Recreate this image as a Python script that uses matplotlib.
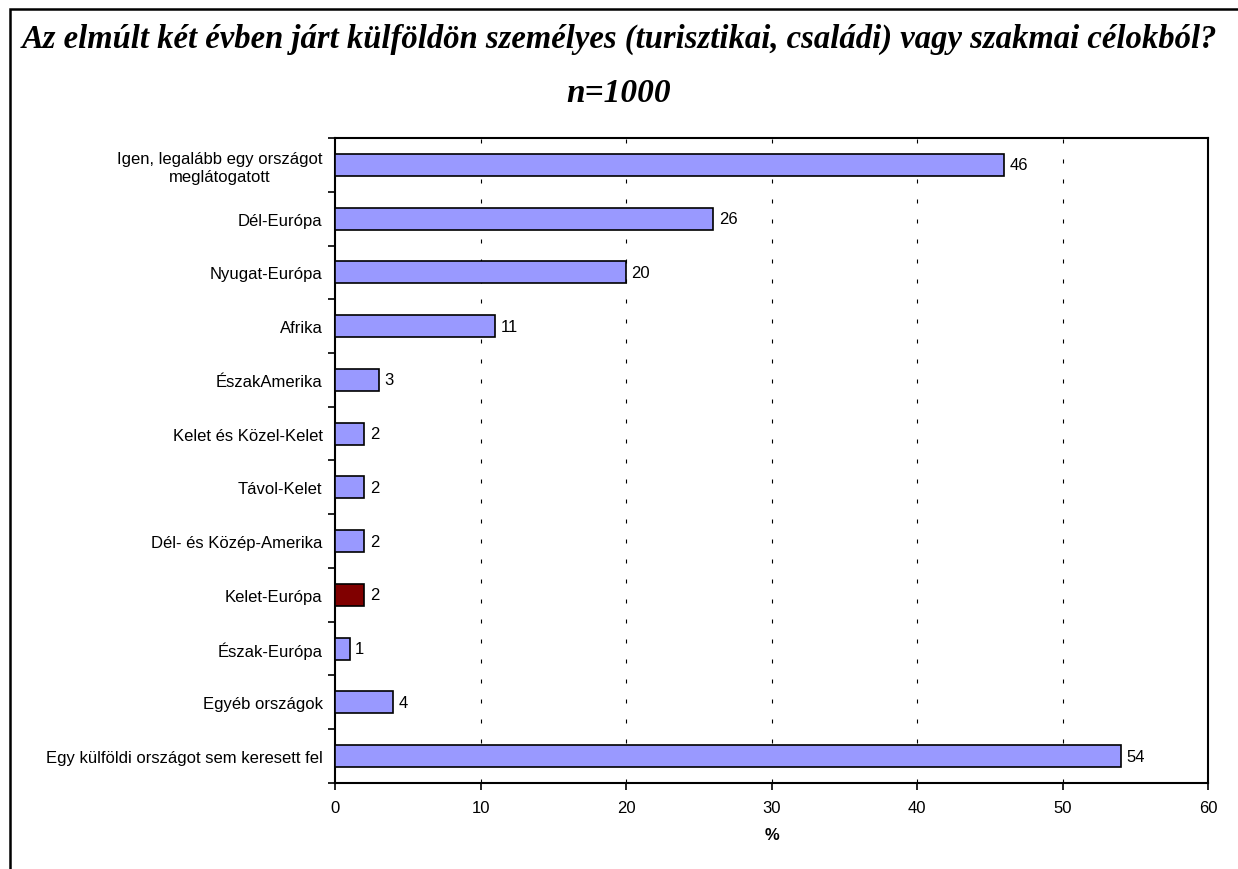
import numpy as np
import matplotlib.pyplot as plt
from matplotlib.patches import Rectangle

categories = ["Igen, legalább egy országot\nmeglátogatott", "Dél-Európa", "Nyugat-Európa",
              "Afrika", "ÉszakAmerika", "Kelet és Közel-Kelet", "Távol-Kelet",
              "Dél- és Közép-Amerika", "Kelet-Európa", "Észak-Európa",
              "Egyéb országok", "Egy külföldi országot sem keresett fel"]
values = [46, 26, 20, 11, 3, 2, 2, 2, 2, 1, 4, 54]
highlight = "Kelet-Európa"

title = "Az elmúlt két évben járt külföldön személyes (turisztikai, családi) vagy szakmai célokból?"
subtitle = "n=1000"

plt.rcParams['font.family'] = ['Liberation Sans', 'DejaVu Sans']
fs = 12

fig = plt.figure(figsize=(12.38, 8.70), dpi=100)
ax = fig.add_axes([0.2706, 0.0989, 0.7052, 0.7413])

colors = ['#800000' if c == highlight else '#9999FF' for c in categories]
y = np.arange(len(categories))
ax.barh(y, values, height=0.41, color=colors, edgecolor='black', linewidth=1.2, zorder=3)

for yi, v in zip(y, values):
    ax.annotate(str(v), (v, yi), xytext=(4, 0), textcoords='offset points',
                va='center', ha='left', fontsize=fs)

ax.set_xlim(0, 60)
ax.set_ylim(len(categories) - 0.5, -0.5)
ax.set_xticks(np.arange(0, 61, 10))
ax.set_yticks(y)
ax.set_yticklabels(categories, fontsize=fs, multialignment='center')
ax.set_yticks(np.arange(-0.5, len(categories), 1), minor=True)
ax.tick_params(axis='y', which='major', length=0, pad=9)
ax.tick_params(axis='y', which='minor', length=5, direction='out', width=1.2)
ax.tick_params(axis='x', length=5, direction='out', labelsize=fs, pad=7, width=1.2)
ax.set_xlabel('%', fontsize=fs, fontweight='bold', labelpad=9)

# dashed vertical gridlines
for xv in range(10, 60, 10):
    ax.axvline(xv, color='black', linewidth=0.8, linestyle=(0, (3.6, 14.4)), zorder=1)

for s in ax.spines.values():
    s.set_linewidth(1.5)

fig.text(0.5, 0.955, title, ha='center', va='center', fontsize=23.5,
         family='Liberation Serif', fontweight='bold', fontstyle='italic')
fig.text(0.5, 0.893, subtitle, ha='center', va='center', fontsize=24,
         family='Liberation Serif', fontweight='bold', fontstyle='italic')

fig.patches.append(Rectangle((10 / 1238, -0.1), 1.2, 1.1 - 10 / 870,
                             transform=fig.transFigure, fill=False,
                             edgecolor='black', linewidth=1.8))

fig.savefig('out.png', dpi=100)
